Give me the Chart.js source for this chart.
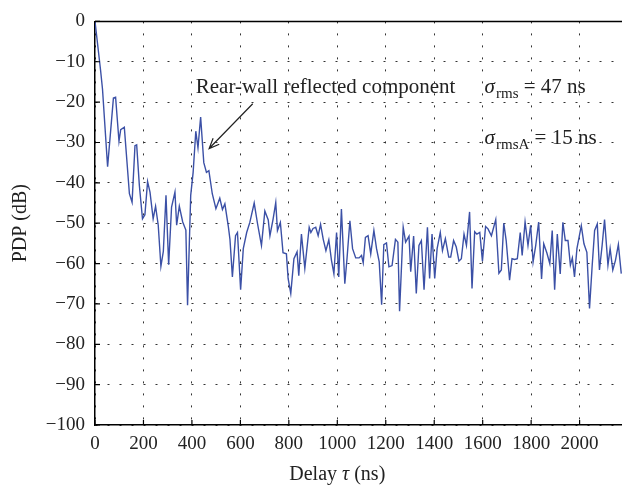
<!DOCTYPE html>
<html>
<head>
<meta charset="utf-8">
<script src="https://cdn.jsdelivr.net/npm/chart.js@4.4.1/dist/chart.umd.min.js"></script>
<style>
  html, body { margin: 0; padding: 0; background: #fff; }
  canvas { display: block; }
</style>
</head>
<body>
<canvas id="pdpChart" width="622" height="488"></canvas>
<script>
const delays = [0, 23, 31, 52, 76, 85, 99, 106, 121, 142, 153, 165, 172, 183, 196, 206, 217, 227, 240, 250,
  261, 272, 282, 293, 304, 316, 330, 337, 348, 362, 375, 382, 395, 405, 416, 425, 436, 449, 460, 470,
  484, 499, 515, 526, 536, 550, 557, 567, 580, 588, 601, 612, 626, 639, 657, 671, 687, 701, 715, 722,
  735, 746, 753, 765, 776, 790, 797, 808, 821, 834, 841, 852, 866, 884, 891, 900, 911, 921, 931, 942,
  953, 965, 976, 986, 997, 1006, 1017, 1031, 1040, 1052, 1063, 1076, 1090, 1100, 1107, 1116, 1127, 1138, 1151, 1162,
  1173, 1183, 1192, 1203, 1213, 1226, 1240, 1250, 1257, 1272, 1282, 1296, 1303, 1315, 1326, 1337, 1347, 1358, 1372, 1381,
  1391, 1402, 1412, 1425, 1434, 1446, 1460, 1468, 1480, 1491, 1502, 1512, 1523, 1533, 1546, 1556, 1567, 1576, 1588, 1599,
  1612, 1622, 1636, 1654, 1667, 1677, 1687, 1697, 1711, 1721, 1732, 1743, 1755, 1763, 1775, 1787, 1798, 1808, 1819, 1831,
  1843, 1852, 1865, 1877, 1887, 1897, 1908, 1920, 1931, 1941, 1952, 1962, 1970, 1979, 1989, 2007, 2018, 2030, 2041, 2052,
  2062, 2073, 2082, 2093, 2103, 2117, 2126, 2137, 2148, 2160, 2172];
const pdp = [0, -12.1, -16.8, -36, -19, -18.8, -29.7, -26.8, -26.2, -42.7, -44.8, -30.8, -30.6, -40.6, -48.9, -47.9, -39.7, -42.3, -48.9, -45.8,
  -50.5, -60.7, -57, -43.1, -60.3, -46, -42.3, -50.5, -45.8, -49.7, -51.7, -70.3, -43.1, -37.4, -27.2, -31.3, -23.7, -35, -37.4, -37,
  -42.7, -46.4, -43.8, -46.6, -45.2, -50.7, -54, -63.3, -53.1, -52.3, -66.5, -56.3, -52.3, -49.8, -45, -50.2, -55.5, -47, -49.2, -53.1,
  -49, -44.9, -51.8, -49.8, -57.3, -57.6, -63.7, -67.4, -58.8, -57.1, -63, -52.7, -61.2, -51, -52.3, -51.3, -51, -53.1, -50.3, -54,
  -56.8, -54.1, -59.2, -62.5, -52.3, -63.3, -46.5, -65, -58.8, -49.4, -56.3, -58.6, -58.6, -58, -59.8, -53.5, -53.1, -57.6, -51.8, -56.3,
  -59.6, -70.2, -55.3, -54.9, -60.8, -60.5, -54, -54.7, -71.8, -51, -54.7, -53.2, -62, -53.2, -67.4, -55.5, -54.3, -66.5, -51, -63.7,
  -52.7, -63.7, -56.3, -52.3, -56.8, -53.8, -58.4, -58.4, -54.3, -55.9, -59.4, -58.8, -52.7, -55.5, -47.2, -66.2, -52.1, -52.7, -52.3, -59.4,
  -50.8, -51.4, -53.1, -49.1, -62.4, -61.6, -50, -54.3, -64.1, -58.8, -59, -58.8, -52.3, -58, -49.7, -55.5, -50.5, -59.6, -55.5, -49.7,
  -63.8, -55.1, -57.4, -60, -51.8, -66.5, -52.7, -62.6, -49.8, -54.3, -54.3, -60.4, -58.6, -63.3, -56.3, -50.6, -55.1, -57.2, -71.1, -60.4,
  -51.8, -50.2, -61.6, -55.5, -49.1, -60.4, -56.3, -61.6, -59.2, -55.3, -62.5];

const xTicks = [0, 200, 400, 600, 800, 1000, 1200, 1400, 1600, 1800, 2000];
const yTicks = [-100, -90, -80, -70, -60, -50, -40, -30, -20, -10, 0];
const xMax = 2175;

const SERIF = '"Liberation Serif", "DejaVu Serif", serif';

// annotation anchors in data units (ns, dB)
const noteText = 'Rear-wall reflected component';
const notePos = { x: 416, y: -17.8 };
const arrowFrom = { x: 651, y: -20.4 };
const arrowTo = { x: 471, y: -31.5 };
const rmsNotes = [
  { x: 1608, y: -17.8, sub: 'rms', rest: ' = 47 ns' },
  { x: 1608, y: -30.3, sub: 'rmsA', rest: ' = 15 ns' }
];
// x-axis title pieces: [text, italic?]
const xTitleParts = [['Delay ', false], ['\u03c4', true], [' (ns)', false]];
const xTitleCenter = 1000;

const fmtMinus = v => (v < 0 ? '\u2212' + Math.abs(v) : String(v));

const decorPlugin = {
  id: 'decor',
  beforeDraw(chart) {
    const ctx = chart.ctx;
    ctx.save();
    ctx.fillStyle = '#fff';
    ctx.fillRect(0, 0, chart.width, chart.height);
    ctx.restore();
  },
  afterDraw(chart) {
    const { ctx, chartArea, scales } = chart;
    const sx = scales.x, sy = scales.y;
    ctx.save();
    // top frame line
    ctx.strokeStyle = '#000';
    ctx.lineWidth = 1.5;
    ctx.beginPath();
    ctx.moveTo(chartArea.left, chartArea.top);
    ctx.lineTo(chartArea.right, chartArea.top);
    ctx.stroke();

    // inward tick marks
    ctx.lineWidth = 1.2;
    ctx.beginPath();
    xTicks.forEach(v => {
      const px = sx.getPixelForValue(v);
      ctx.moveTo(px, chartArea.bottom);
      ctx.lineTo(px, chartArea.bottom - 5);
    });
    yTicks.forEach(v => {
      const py = sy.getPixelForValue(v);
      ctx.moveTo(chartArea.left, py);
      ctx.lineTo(chartArea.left + 5, py);
    });
    ctx.stroke();

    ctx.fillStyle = '#222';
    ctx.textBaseline = 'alphabetic';
    ctx.textAlign = 'left';
    ctx.font = '21px ' + SERIF;
    ctx.fillText(noteText, sx.getPixelForValue(notePos.x), sy.getPixelForValue(notePos.y));

    // arrow
    const x1 = sx.getPixelForValue(arrowFrom.x), y1 = sy.getPixelForValue(arrowFrom.y);
    const x2 = sx.getPixelForValue(arrowTo.x), y2 = sy.getPixelForValue(arrowTo.y);
    ctx.strokeStyle = '#222';
    ctx.lineWidth = 1.2;
    ctx.beginPath();
    ctx.moveTo(x1, y1);
    ctx.lineTo(x2, y2);
    const ang = Math.atan2(y2 - y1, x2 - x1);
    const head = 11;
    ctx.moveTo(x2 - head * Math.cos(ang - 0.4), y2 - head * Math.sin(ang - 0.4));
    ctx.lineTo(x2, y2);
    ctx.lineTo(x2 - head * Math.cos(ang + 0.4), y2 - head * Math.sin(ang + 0.4));
    ctx.stroke();

    // sigma labels
    rmsNotes.forEach(n => {
      let px = sx.getPixelForValue(n.x);
      const py = sy.getPixelForValue(n.y);
      ctx.font = 'italic 21px ' + SERIF;
      ctx.fillText('\u03c3', px, py);
      px += ctx.measureText('\u03c3').width + 1;
      ctx.font = '15px ' + SERIF;
      ctx.fillText(n.sub, px, py + 5);
      px += ctx.measureText(n.sub).width;
      ctx.font = '21px ' + SERIF;
      ctx.fillText(n.rest, px, py);
    });

    // x-axis title, italic tau
    const fontFor = it => (it ? 'italic ' : '') + '20px ' + SERIF;
    let total = 0;
    xTitleParts.forEach(([t, it]) => { ctx.font = fontFor(it); total += ctx.measureText(t).width; });
    let tx = sx.getPixelForValue(xTitleCenter) - total / 2;
    const ty = chart.height - 8;
    xTitleParts.forEach(([t, it]) => {
      ctx.font = fontFor(it);
      ctx.fillText(t, tx, ty);
      tx += ctx.measureText(t).width;
    });
    ctx.restore();
  }
};

new Chart(document.getElementById('pdpChart').getContext('2d'), {
  type: 'line',
  data: {
    datasets: [{
      data: delays.map((d, i) => ({ x: d, y: pdp[i] })),
      borderColor: '#3b50a6',
      borderWidth: 1.4,
      pointRadius: 0,
      tension: 0,
      fill: false
    }]
  },
  options: {
    responsive: false,
    animation: false,
    devicePixelRatio: 1,
    layout: { padding: { top: 17, right: 0, left: 0, bottom: 0 } },
    plugins: { legend: { display: false }, tooltip: { enabled: false } },
    scales: {
      x: {
        type: 'linear',
        min: 0,
        max: xMax,
        afterFit: s => { s.height = 63; },
        afterBuildTicks: s => { s.ticks = xTicks.map(v => ({ value: v })); },
        ticks: {
          padding: 8,
          maxRotation: 0,
          autoSkip: false,
          color: '#222',
          callback: v => String(v),
          font: { family: SERIF, size: 19 }
        },
        grid: { color: '#333', lineWidth: 1, drawTicks: false, borderDash: [2, 10] },
        border: { display: true, color: '#000', width: 1.5, dash: [2, 10] },
        title: { display: false }
      },
      y: {
        min: -100,
        max: 0,
        afterFit: s => { s.width = 95; },
        afterBuildTicks: s => { s.ticks = yTicks.map(v => ({ value: v })); },
        ticks: {
          padding: 10,
          color: '#222',
          callback: v => fmtMinus(v),
          font: { family: SERIF, size: 19 }
        },
        grid: { color: '#333', lineWidth: 1, drawTicks: false, borderDash: [2, 10] },
        border: { display: true, color: '#000', width: 1.5, dash: [2, 10] },
        title: {
          display: true,
          text: 'PDP (dB)',
          color: '#222',
          font: { family: SERIF, size: 20 },
          padding: { top: 9, bottom: 0 }
        }
      }
    }
  },
  plugins: [decorPlugin]
});
</script>
</body>
</html>
